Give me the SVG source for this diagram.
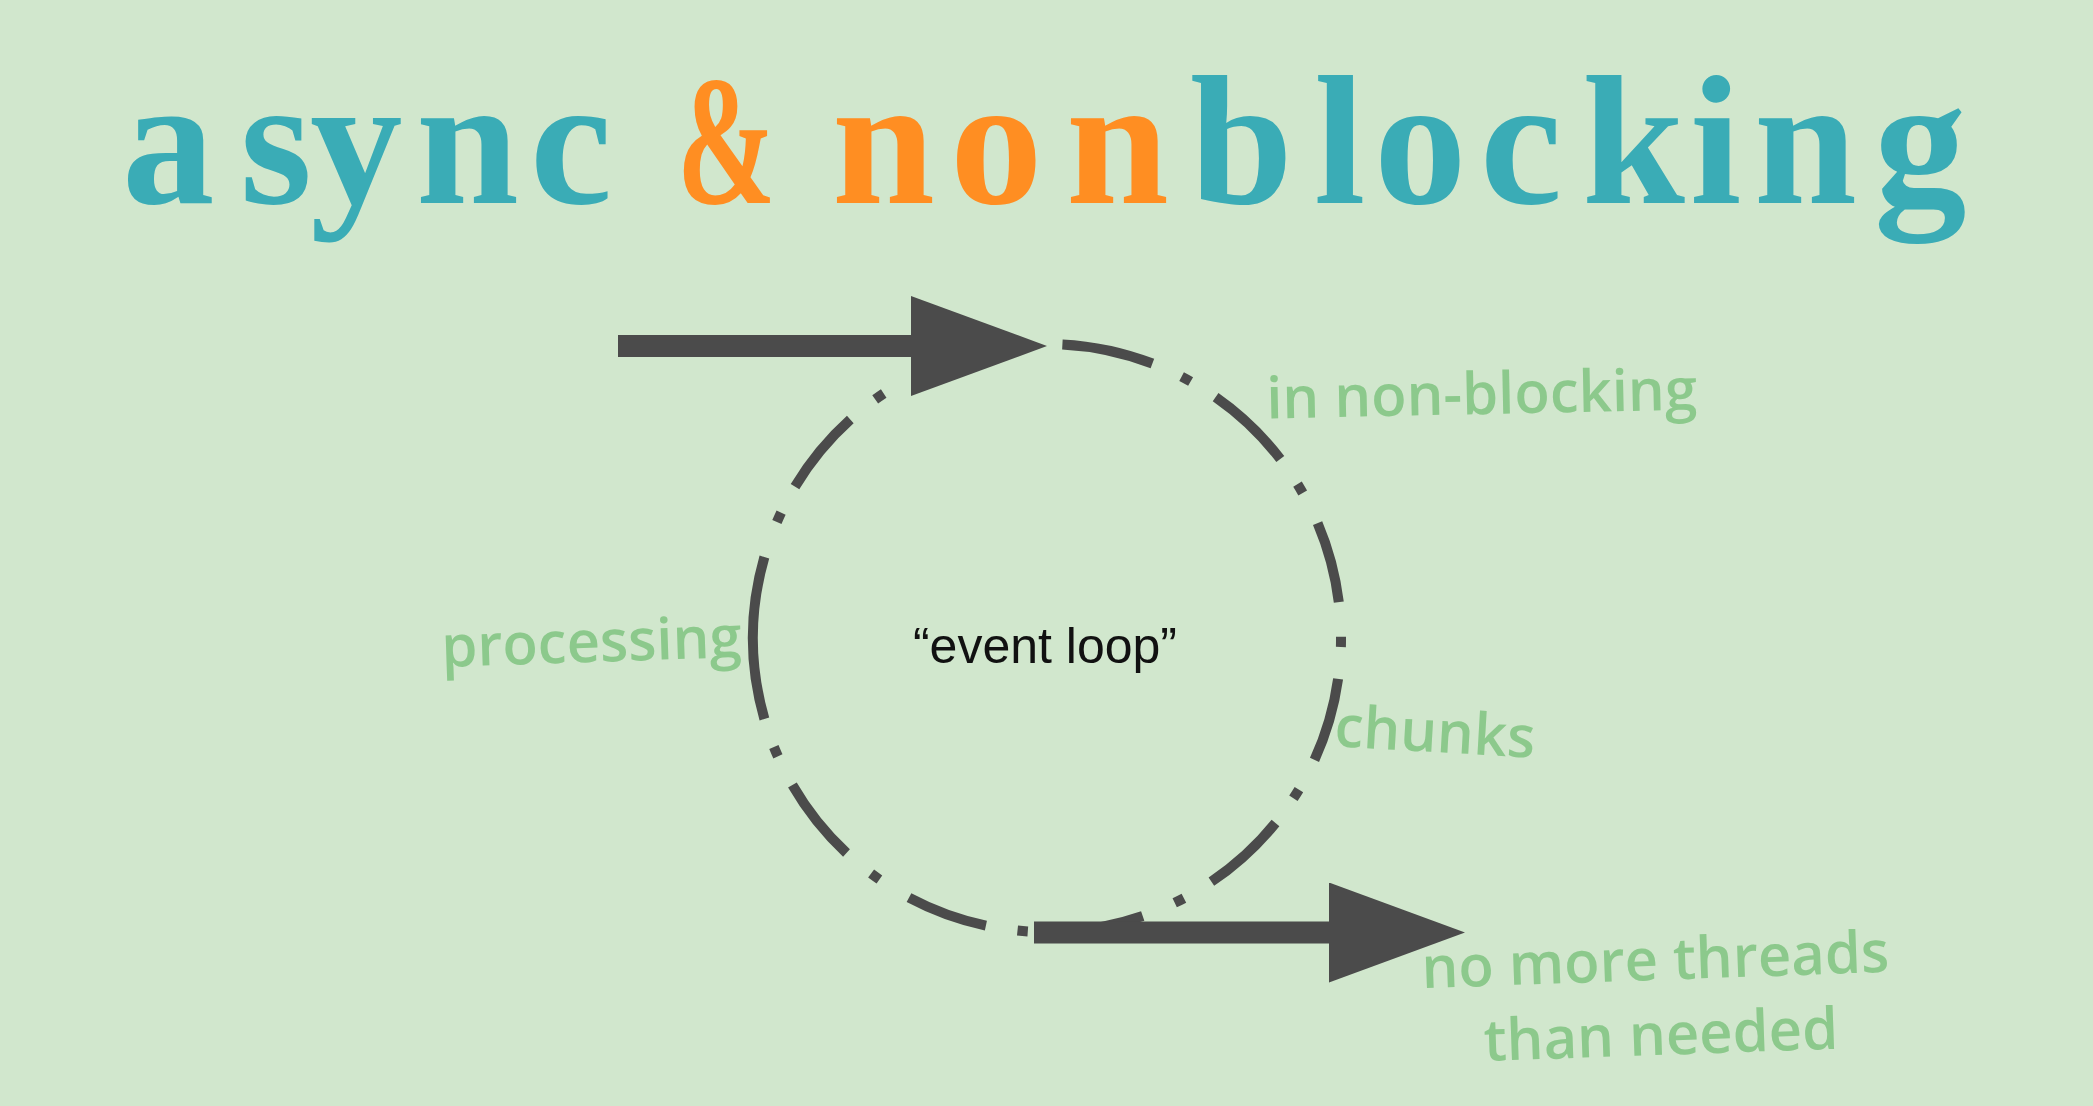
<svg xmlns="http://www.w3.org/2000/svg" width="2093" height="1106" viewBox="0 0 2093 1106">
  <defs>
    <style>
      .title { font-family: "Liberation Serif", "DejaVu Serif", serif; font-weight: bold; font-size: 185px; }
      .teal { fill: #3aacb6; }
      .orange { fill: #ff8e22; }
      .lbl { font-family: "Open Sans", "Noto Sans", sans-serif; font-weight: 600; font-size: 58px; fill: #8cc98c; }
      .loop { fill: none; stroke: #4b4b4b; stroke-width: 10; stroke-linecap: butt; }
      .conn { fill: none; stroke: #4b4b4b; stroke-width: 22; stroke-linecap: butt; }
      .center { font-family: "Liberation Sans", Arial, sans-serif; font-size: 50px; fill: #111111; }
    </style>
    <marker id="head" viewBox="0 0 136 100" markerUnits="userSpaceOnUse" markerWidth="136" markerHeight="100" refX="2" refY="50" orient="auto">
      <path d="M0 0 L136 50 L0 100 Z" fill="#4b4b4b"/>
    </marker>
  </defs>

  <rect x="0" y="0" width="2093" height="1106" fill="#d1e7cd"/>

  <g id="title">
    <text class="title teal" y="203"><tspan x="122">a</tspan><tspan x="240">s</tspan><tspan x="310">y</tspan><tspan x="416">n</tspan><tspan x="530">c</tspan></text>
    <text class="title orange" y="203" transform="translate(677 0) scale(0.64 1)" x="0">&amp;</text>
    <text class="title orange" y="203"><tspan x="832">n</tspan><tspan x="950">o</tspan><tspan x="1066">n</tspan></text>
    <text class="title teal" y="203"><tspan x="1190">b</tspan><tspan x="1314">l</tspan><tspan x="1374">o</tspan><tspan x="1480">c</tspan><tspan x="1582">k</tspan><tspan x="1690">i</tspan><tspan x="1754">n</tspan><tspan x="1874">g</tspan></text>
  </g>

  <g id="event-loop">
    <path class="loop" d="
      M1062.4 344.4 A294 294 0 0 1 1152.4 363.5
      M1181.6 376.6 A294 294 0 0 1 1190.6 381.5
      M1215.6 397.2 A294 294 0 0 1 1280.3 459.0
      M1297.5 484.2 A294 294 0 0 1 1302.7 493.0
      M1317.6 523.1 A294 294 0 0 1 1338.8 602.2
      M1341.0 636.7 A294 294 0 0 1 1340.9 647.0
      M1338.1 678.9 A294 294 0 0 1 1314.5 759.9
      M1298.9 789.6 A294 294 0 0 1 1293.4 798.3
      M1275.5 823.0 A294 294 0 0 1 1211.4 881.7
      M1183.9 898.2 A294 294 0 0 1 1174.7 902.8
      M1142.7 916.0 A294 294 0 0 1 1062.4 931.6
      M1027.8 931.4 A294 294 0 0 1 1017.5 930.5
      M985.9 925.6 A294 294 0 0 1 909.0 897.6
      M879.4 879.5 A294 294 0 0 1 871.1 873.6
      M846.5 853.0 A294 294 0 0 1 792.4 785.0
      M777.9 756.4 A294 294 0 0 1 773.9 747.0
      M764.4 719.0 A294 294 0 0 1 764.4 557.0
      M776.9 522.0 A294 294 0 0 1 781.1 512.6
      M795.0 486.6 A294 294 0 0 1 850.3 419.5
      M875.2 399.4 A294 294 0 0 1 883.7 393.5"/>
    <text class="center" x="1045" y="663" text-anchor="middle">“event loop”</text>
  </g>

  <g id="connectors">
    <path class="conn" d="M618 346 H913" marker-end="url(#head)"/>
    <path class="conn" d="M1034 932.5 H1331" marker-end="url(#head)"/>
  </g>

  <g id="label-nonblocking">
    <text class="lbl" x="1482" y="414" text-anchor="middle" transform="rotate(-1.2 1482 414)">in non-blocking</text>
  </g>
  <g id="label-processing">
    <text class="lbl" x="592" y="662" text-anchor="middle" transform="rotate(-1.9 592 662)">processing</text>
  </g>
  <g id="label-chunks">
    <text class="lbl" x="1434" y="752" text-anchor="middle" transform="rotate(3.3 1434 752)">chunks</text>
  </g>
  <g id="label-threads">
    <g transform="rotate(-2 1656 980)">
      <text class="lbl" x="1656" y="980" text-anchor="middle">no more threads</text>
      <text class="lbl" x="1659" y="1055" text-anchor="middle">than needed</text>
    </g>
  </g>
</svg>
